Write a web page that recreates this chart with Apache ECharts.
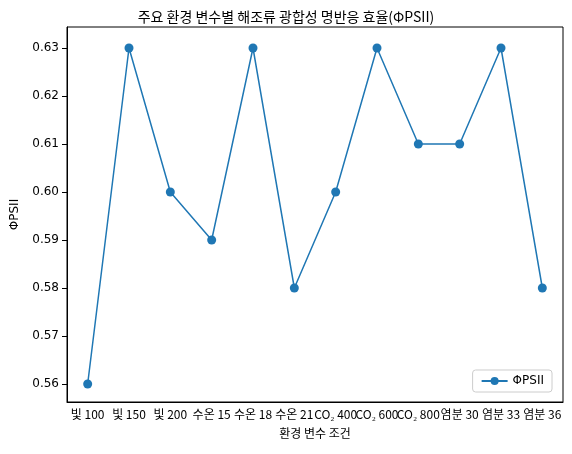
<!DOCTYPE html><html><head><meta charset="utf-8"><script src="https://cdn.jsdelivr.net/npm/echarts@6/dist/echarts.min.js"></script></head><body style="margin:0"><div id="c" style="width:572px;height:454px"></div><script>
const categories=["빛 100","빛 150","빛 200","수온 15","수온 18","수온 21","CO₂ 400","CO₂ 600","CO₂ 800","염분 30","염분 33","염분 36"];
const values=[0.56,0.63,0.60,0.59,0.63,0.58,0.60,0.63,0.61,0.61,0.63,0.58];
const yTicks=[0.56,0.57,0.58,0.59,0.60,0.61,0.62,0.63];
const F='"DejaVu Sans","Noto Sans CJK KR",sans-serif';
const ch=echarts.init(document.getElementById('c'));
ch.setOption({
 animation:false,
 title:{text:'주요 환경 변수별 해조류 광합성 명반응 효율(ΦPSII)',left:'center',top:5,textStyle:{fontFamily:'"Noto Sans CJK KR"',fontSize:14,fontWeight:'normal',color:'#000'}},
 grid:{left:67,right:9,top:27,bottom:52},
 legend:{right:20,bottom:62,orient:'vertical',data:['ΦPSII'],itemWidth:26,itemHeight:10,textStyle:{fontFamily:F,fontSize:12,color:'#000'},borderColor:'#ccc',borderWidth:1,borderRadius:3,padding:[5,8]},
 xAxis:{type:'category',data:categories,boundaryGap:true,name:'환경 변수 조건',nameLocation:'middle',nameGap:25,nameTextStyle:{fontFamily:'"Noto Sans CJK KR"',fontSize:12,color:'#000'},
  axisLine:{lineStyle:{color:'#000'}},axisTick:{alignWithLabel:true,lineStyle:{color:'#000'}},axisLabel:{interval:0,color:'#000',fontFamily:'"Noto Sans CJK KR"',fontSize:12,margin:6}},
 yAxis:{type:'value',min:0.55625,max:0.634375,name:'ΦPSII',nameLocation:'middle',nameGap:46,nameTextStyle:{fontFamily:F,fontSize:12,color:'#000'},
  splitLine:{show:false},axisLine:{show:true,lineStyle:{color:'#000'}},
  axisTick:{show:true,customValues:yTicks,lineStyle:{color:'#000'}},
  axisLabel:{customValues:yTicks,color:'#000',fontFamily:F,fontSize:12,formatter:v=>v.toFixed(2)}},
 series:[{name:'ΦPSII',type:'line',data:values,symbol:'circle',symbolSize:9,color:'#1f77b4',lineStyle:{width:1.5}}],
 graphic:[{type:'rect',shape:{x:67,y:27,width:496,height:375},style:{fill:'none',stroke:'#000',lineWidth:1},silent:true}]
});
</script></body></html>
